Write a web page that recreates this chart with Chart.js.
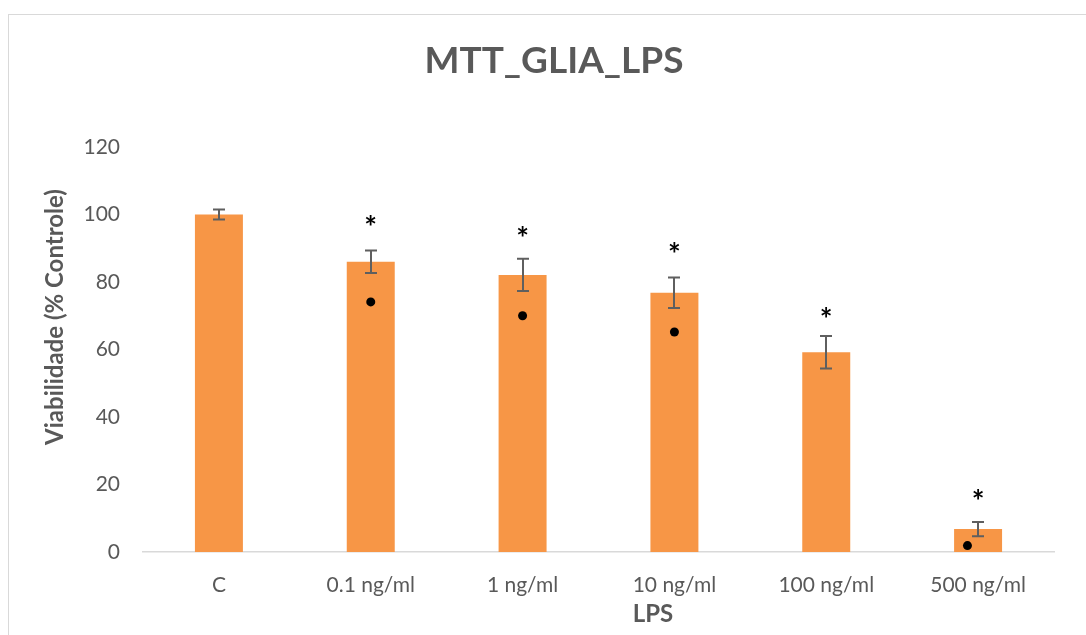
<!DOCTYPE html>
<html>
<head>
<meta charset="utf-8">
<script src="https://cdn.jsdelivr.net/npm/chart.js@4"></script>
<style>
  html, body { margin: 0; padding: 0; background: #fff; overflow: hidden; }
  #frame { position: absolute; left: 8px; top: 14px; width: 1100px; height: 640px; border: 1px solid #d9d9d9; box-sizing: border-box; }
  #mtt { position: absolute; left: 0; top: 0; }
</style>
</head>
<body>
<div id="frame"></div>
<canvas id="mtt" width="1086" height="635"></canvas>
<script>
// ── DATA ──
const categories = ['C', '0.1 ng/ml', '1 ng/ml', '10 ng/ml', '100 ng/ml', '500 ng/ml'];
const viability = [100, 86, 82.1, 76.8, 59.2, 6.8];
const errors = [1.5, 3.3, 4.8, 4.5, 4.8, 2.1];
// black dots (x = category index, small shift on the last one)
const dotX = [1, 2, 3, 4.93];
const dotY = [74.1, 70, 65.2, 1.9];
// significance asterisks
const starX = [1, 2, 3, 4, 5];
const starY = [97.8, 94.5, 89.8, 70.5, 16.6];
const yTicks = [0, 20, 40, 60, 80, 100, 120];

const TXT = '#595959';
const FONT = "Lato, 'Open Sans', sans-serif";

// error bars drawn through the y scale
const errorBars = {
    id: 'errorBars',
    afterDatasetsDraw(chart) {
        const { ctx, scales: { x, y } } = chart;
        ctx.save();
        ctx.strokeStyle = '#5f5f5f';
        ctx.lineWidth = 2;
        viability.forEach((v, i) => {
            const cx = Math.round(x.getPixelForValue(i));
            const top = y.getPixelForValue(v + errors[i]);
            const bot = y.getPixelForValue(v - errors[i]);
            ctx.beginPath();
            ctx.moveTo(cx, top); ctx.lineTo(cx, bot);
            ctx.moveTo(cx - 6, top); ctx.lineTo(cx + 6, top);
            ctx.moveTo(cx - 6, bot); ctx.lineTo(cx + 6, bot);
            ctx.stroke();
        });
        ctx.restore();
    }
};

// asterisks + titles
const labels = {
    id: 'labels',
    afterDraw(chart) {
        const { ctx, scales: { x2, y } } = chart;
        ctx.save();
        ctx.fillStyle = '#000';
        ctx.font = `bold 30px ${FONT}`;
        ctx.textAlign = 'center';
        ctx.textBaseline = 'middle';
        starX.forEach((s, i) => {
            ctx.fillText('*', x2.getPixelForValue(s), y.getPixelForValue(starY[i]) + 6);
        });

        ctx.fillStyle = TXT;
        ctx.font = `bold 37px ${FONT}`;
        ctx.fillText('MTT_GLIA_LPS', 554, 61);

        ctx.font = `bold 24px ${FONT}`;
        ctx.fillText('LPS', 653, 614);

        ctx.translate(55, 317);
        ctx.rotate(-Math.PI / 2);
        ctx.fillText('Viabilidade (% Controle)', 0, 0);
        ctx.restore();
    }
};

new Chart(document.getElementById('mtt').getContext('2d'), {
    data: {
        labels: categories,
        datasets: [
            {
                type: 'bar',
                data: viability,
                backgroundColor: '#f79646',
                categoryPercentage: 1,
                barPercentage: 0.316,
                grouped: false,
                xAxisID: 'x',
                order: 2
            },
            {
                type: 'scatter',
                data: dotX.map((v, i) => ({ x: v, y: dotY[i] })),
                xAxisID: 'x2',
                pointRadius: 4.5,
                pointBackgroundColor: '#000',
                pointBorderWidth: 0,
                order: 1
            }
        ]
    },
    options: {
        responsive: false,
        animation: false,
        devicePixelRatio: 1,
        layout: { padding: { top: 147, right: 32, bottom: 0, left: 0 } },
        plugins: { legend: { display: false }, tooltip: { enabled: false } },
        scales: {
            x: {
                type: 'category',
                offset: true,
                grid: { display: false },
                border: { color: '#d9d9d9', width: 1.5 },
                ticks: { color: TXT, font: { family: FONT, size: 21 }, padding: 13, maxRotation: 0 },
                afterFit: s => { s.height = 83; }
            },
            x2: {
                type: 'linear',
                display: false,
                min: -0.5,
                max: 5.5
            },
            y: {
                min: 0,
                max: 120,
                grid: { display: false },
                border: { display: false },
                afterBuildTicks: s => { s.ticks = yTicks.map(v => ({ value: v })); },
                ticks: { color: TXT, font: { family: FONT, size: 21 }, padding: 15 },
                afterFit: s => { s.width = 143; }
            }
        }
    },
    plugins: [errorBars, labels]
});
</script>
</body>
</html>
